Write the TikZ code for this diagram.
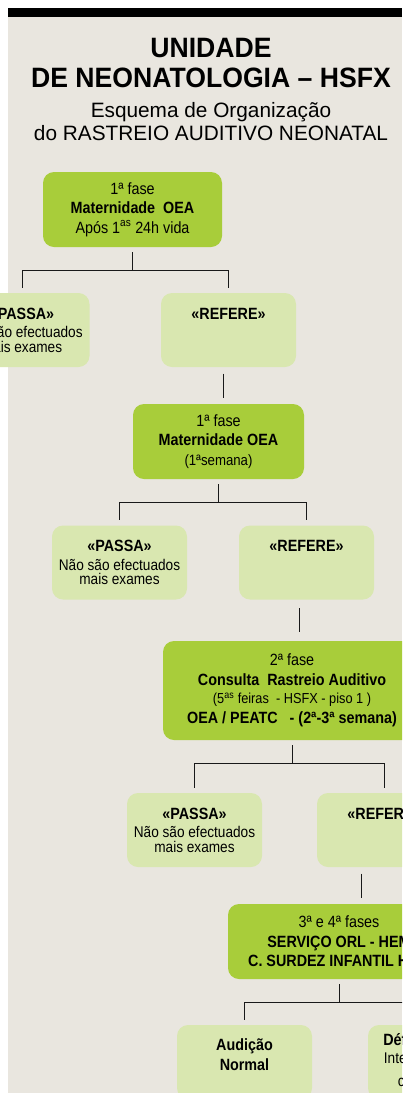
\documentclass[tikz,border=0pt]{standalone}
\usepackage{fontspec}
\setmainfont{Liberation Sans}
\newfontfamily\boxfont[FakeStretch=0.88]{Liberation Sans}
\newfontfamily\headfont[FakeStretch=0.95]{Liberation Sans}
\usetikzlibrary{calc}
\definecolor{paper}{RGB}{233,230,223}
\definecolor{fasegreen}{RGB}{168,205,58}
\definecolor{palegreen}{RGB}{217,231,176}

\begin{document}
\begin{tikzpicture}[x=1pt, y=-1pt,
    fase/.style={rounded corners=11pt, fill=fasegreen, align=center, inner sep=0pt,
        minimum height=75pt, font=\boxfont\fontsize{16.3}{19.5}\selectfont},
    result/.style={rounded corners=11pt, fill=palegreen, align=center, inner sep=0pt,
        minimum width=135pt, minimum height=74pt, font=\boxfont\fontsize{15.5}{14.5}\selectfont},
    link/.style={draw=black!90, line width=0.9pt}]
\useasboundingbox (0,0) rectangle (402,1093);
\clip (0,0) rectangle (402,1093);
\fill[white] (0,0) rectangle (402,1093);
\fill[paper] (8,17) rectangle (402,1093);
\fill[black] (8,8) rectangle (402,17);

% title
\node[anchor=base, font=\headfont\bfseries\fontsize{28}{30}\selectfont] (title1) at (211,57) {UNIDADE};
\node[anchor=base, font=\headfont\bfseries\fontsize{28}{30}\selectfont] (title2) at (211,87) {DE NEONATOLOGIA – HSFX};
\node[anchor=base, font=\fontsize{20.8}{24}\selectfont] (sub1) at (211,117) {Esquema de Organização};
\node[anchor=base, font=\fontsize{20.8}{24}\selectfont] (sub2) at (211,140) {do RASTREIO AUDITIVO NEONATAL};

% boxes
\node[fase, minimum width=179pt] (A) at (132.5,209.5) {1ª fase\\\textbf{Maternidade\ \ OEA}\\Após 1\textsuperscript{as} 24h vida};
\node[result] (B1) at (22,330) {\textbf{\fontsize{16.3}{14.5}\selectfont «PASSA»}\\[4pt]Não são efectuados\\mais exames};
\node[result] (B2) at (228.5,330) {\textbf{\fontsize{16.3}{14.5}\selectfont «REFERE»}\\[4pt]\phantom{Não são efectuados}\\\phantom{mais exames}};
\node[fase, minimum width=171pt] (C) at (218.5,441.5) {1ª fase\\\textbf{Maternidade OEA}\\{\fontsize{15}{19.5}\selectfont(1ªsemana)}};
\node[result] (D1) at (119.5,562.5) {\textbf{\fontsize{16.3}{14.5}\selectfont «PASSA»}\\[4pt]Não são efectuados\\mais exames};
\node[result] (D2) at (306.5,562.5) {\textbf{\fontsize{16.3}{14.5}\selectfont «REFERE»}\\[4pt]\phantom{Não são efectuados}\\\phantom{mais exames}};
\node[fase, minimum width=258pt, minimum height=99pt] (E) at (292,690.5) {2ª fase\\\textbf{Consulta\ \ Rastreio Auditivo}\\[-1pt]{\fontsize{14.5}{19.5}\selectfont(5\textsuperscript{as} feiras\ \ - HSFX - piso 1 )}\\\textbf{OEA / PEATC\ \ \ - (2ª-3ª semana)}};
\node[result] (F1) at (194.5,830) {\textbf{\fontsize{16.3}{14.5}\selectfont «PASSA»}\\[4pt]Não são efectuados\\mais exames};
\node[result] (F2) at (384.5,830) {\textbf{\fontsize{16.3}{14.5}\selectfont «REFERE»}\\[4pt]\phantom{Não são efectuados}\\\phantom{mais exames}};
\node[fase, minimum width=222pt] (G) at (339,941.5) {3ª e 4ª fases\\\textbf{SERVIÇO ORL - HEM}\\\textbf{C. SURDEZ INFANTIL HEM}};
\node[result] (H1) at (244.5,1062) {\textbf{\fontsize{16.3}{14.5}\selectfont Audição}\\[4pt]\textbf{\fontsize{16.3}{14.5}\selectfont Normal}\\\phantom{mais exames}};
\node[result] (H2) at (435.5,1062) {\textbf{\fontsize{16.3}{14.5}\selectfont Défice Auditivo}\\[3pt]Intervenção ORL\\[8pt]com prótese};

% connectors
\draw[link] ([yshift=-5pt]A.south) -- ++(0,18) coordinate (a) -| ([yshift=5pt]B1.north);
\draw[link] (a) -| ([yshift=5pt]B2.north);
\draw[link] ($(B2.south)!.5!(C.north)+(0,-12)$) -- ++(0,24);
\draw[link] ([yshift=-5pt]C.south) -- ++(0,18) coordinate (c) -| ([yshift=5pt]D1.north);
\draw[link] (c) -| ([yshift=5pt]D2.north);
\draw[link] ($(D2.south)!.5!(E.north)+(0,-12)$) -- ++(0,24);
\draw[link] ([yshift=-5pt]E.south) -- ++(0,18) coordinate (e) -| ([yshift=5pt]F1.north);
\draw[link] (e) -| ([yshift=5pt]F2.north);
\draw[link] ($(F2.south)!.5!(G.north)+(0,-12)$) -- ++(0,24);
\draw[link] ([yshift=-5pt]G.south) -- ++(0,18) coordinate (g) -| ([yshift=5pt]H1.north);
\draw[link] (g) -| ([yshift=5pt]H2.north);
\end{tikzpicture}
\end{document}
